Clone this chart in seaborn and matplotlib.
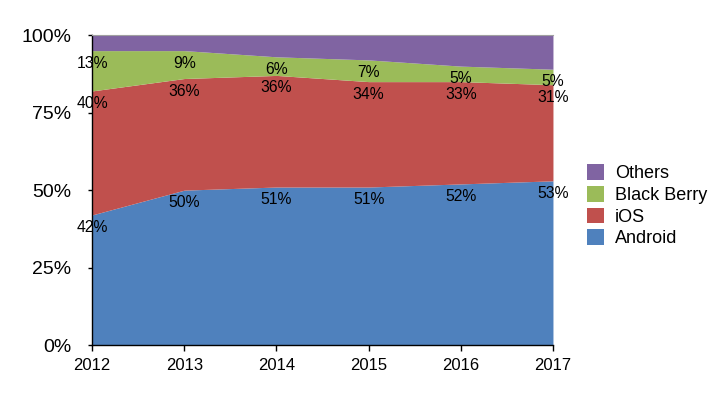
import numpy as np
import seaborn as sns
import matplotlib.pyplot as plt
from matplotlib.patches import Patch

# smartphone OS market share (percent)
years = [2012, 2013, 2014, 2015, 2016, 2017]
android = [42, 50, 51, 51, 52, 53]
ios = [40, 36, 36, 34, 33, 31]
blackberry = [13, 9, 6, 7, 5, 5]
others = [5, 5, 7, 8, 10, 11]

series_names = ["Android", "iOS", "Black Berry", "Others"]
series_colors = ["#4F81BD", "#C0504D", "#9BBB59", "#8064A2"]
y_ticks = [0, 25, 50, 75, 100]
y_tick_labels = ["0%", "25%", "50%", "75%", "100%"]

sns.set_style("white")
plt.rcParams["font.family"] = ["Liberation Sans", "DejaVu Sans"]

fig = plt.figure(figsize=(7.2, 3.99), dpi=100)
ax = fig.add_axes([0.128, 0.135, 0.64, 0.777])

values = [android, ios, blackberry, others]
ax.stackplot(years, *values, colors=series_colors, linewidth=0)

# percentage labels just below the top of each layer (Others has none)
cum = np.zeros(len(years))
for vals in values[:3]:
    cum = cum + np.array(vals)
    for x, top, v in zip(years, cum, vals):
        ax.annotate(f"{v}%", xy=(x, top), xytext=(0, -9), textcoords="offset points",
                    ha="center", va="center", fontsize=11.3, color="black")

ax.set_xlim(years[0], years[-1])
ax.set_ylim(0, 100)
ax.set_xticks(years)
ax.set_xticklabels([str(y) for y in years], fontsize=12)
ax.set_yticks(y_ticks)
ax.set_yticklabels(y_tick_labels, fontsize=14)
ax.tick_params(axis="y", direction="out", length=3, width=1, pad=12, left=True,
               colors="black")
ax.tick_params(axis="x", direction="out", length=4, width=1, pad=5, bottom=True,
               colors="black")

for side in ["left", "bottom"]:
    ax.spines[side].set_color("black")
    ax.spines[side].set_linewidth(1)
ax.spines["top"].set_color("#a0a0a0")
ax.spines["top"].set_linewidth(0.8)
ax.spines["right"].set_visible(False)

handles = [Patch(facecolor=c, edgecolor="none") for c in series_colors]
leg = fig.legend(handles[::-1], series_names[::-1], loc="center left",
                 bbox_to_anchor=(0.803, 0.484), frameon=False, fontsize=13,
                 handlelength=0.95, handleheight=0.95, handletextpad=0.6,
                 labelspacing=0.2, borderpad=0)
for t in leg.get_texts():
    t.set_color("black")

fig.savefig("out.png", dpi=100)
